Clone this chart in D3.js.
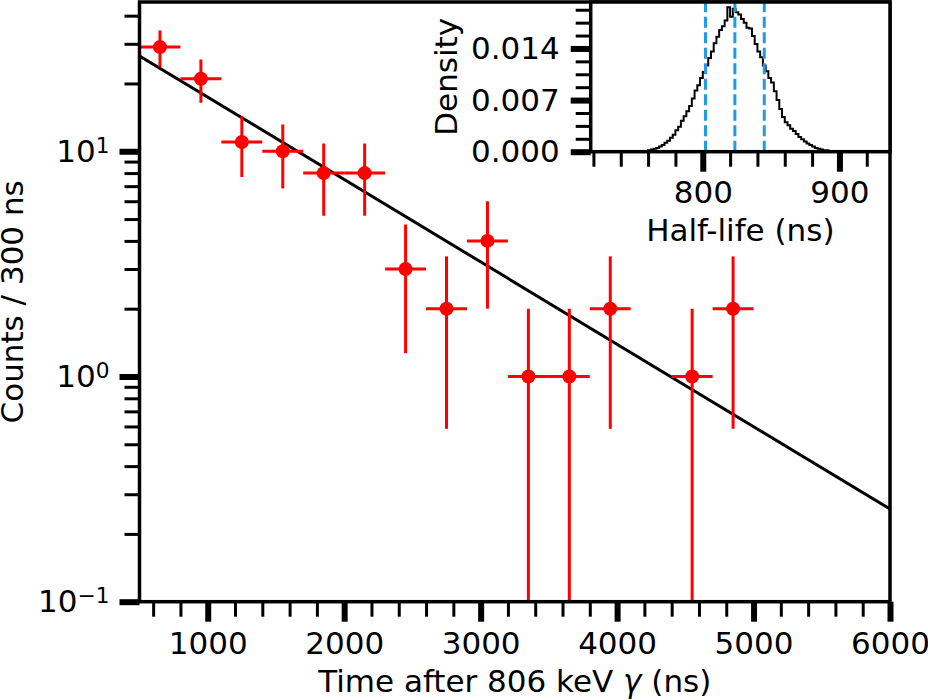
<!DOCTYPE html>
<html>
<head>
<meta charset="utf-8">
<script src="https://cdn.jsdelivr.net/npm/d3@7"></script>
<style>
  body { margin: 0; background: #fff; }
  text { font-family: "DejaVu Sans", sans-serif; fill: #000; }
</style>
</head>
<body>
<script>
// Decay curve: counts per 300 ns bin (bin at 4250 ns is empty)
const timeNs = [650, 950, 1250, 1550, 1850, 2150, 2450, 2750, 3050, 3350, 3650, 3950, 4550, 4850];
const counts = [29, 21, 11, 10, 8, 8, 3, 2, 4, 1, 1, 2, 1, 2];
const binHalfWidth = 150;

// fitted exponential, end points
const fitTime = [500, 6000];
const fitCounts = [26.5, 0.258];

const xTicks = [1000, 2000, 3000, 4000, 5000, 6000];
const xMinorTicks = [600, 800, 1200, 1400, 1600, 1800, 2200, 2400, 2600, 2800, 3200, 3400, 3600, 3800,
  4200, 4400, 4600, 4800, 5200, 5400, 5600, 5800];
const yTicks = [0.1, 1, 10];
const yTickExp = ['\u22121', '0', '1'];
const yMinorTicks = [0.2, 0.3, 0.4, 0.5, 0.6, 0.7, 0.8, 0.9, 2, 3, 4, 5, 6, 7, 8, 9, 20, 30, 40];

// Inset: half-life posterior histogram, 2 ns bins starting at 756 ns
const histStart = 756;
const histBin = 2;
const histDensity = [
  0.0001, 0.0001, 0.0002, 0.0003, 0.0004, 0.0005, 0.0007, 0.0009, 0.0012, 0.0015,
  0.0019, 0.0023, 0.0029, 0.0034, 0.0042, 0.0048, 0.0055, 0.0062, 0.0072, 0.0083,
  0.0090, 0.0100, 0.0108, 0.0117, 0.0127, 0.0136, 0.0147, 0.0156, 0.0165, 0.0170,
  0.0178, 0.0196, 0.0183, 0.0194, 0.0189, 0.0186, 0.0180, 0.0175, 0.0168, 0.0167,
  0.0157, 0.0146, 0.0136, 0.0128, 0.0117, 0.0109, 0.0100, 0.0094, 0.0082, 0.0070,
  0.0058, 0.0047, 0.0040, 0.0036, 0.0031, 0.0028, 0.0024, 0.0020, 0.0017, 0.0014,
  0.0011, 0.0009, 0.0007, 0.0005, 0.0004, 0.0003, 0.0002, 0.0002, 0.0001, 0.0001, 0.0000
];
const halfLifeQuantiles = [802, 823.5, 845];
const insetXTicks = [800, 900];
const insetXMinorTicks = [720, 740, 760, 780, 820, 840, 860, 880, 920];
const insetYTicks = [0, 0.007, 0.014];
const insetYMinorTicks = [0.00175, 0.0035, 0.00525, 0.00875, 0.0105, 0.01225, 0.01575, 0.0175, 0.01925];

const W = 928, H = 700;
const fontSize = 31;
const main = {left: 139.5, right: 890, top: 2, bottom: 601.7};
const inset = {left: 590.7, right: 890, top: 2, bottom: 151.7};

const svg = d3.select('body').append('svg')
    .attr('width', W)
    .attr('height', H);

const x = d3.scaleLinear().domain([500, 6000]).range([main.left, main.right]);
const y = d3.scaleLog().domain([0.1, 46]).range([main.bottom, main.top]);

svg.append('defs').append('clipPath').attr('id', 'main-clip')
  .append('rect')
    .attr('x', main.left).attr('y', main.top)
    .attr('width', main.right - main.left).attr('height', main.bottom - main.top);

// styles every tick group the same way
function styleAxis(g, width) {
  g.select('.domain').remove();
  g.selectAll('.tick line').attr('stroke', '#000').attr('stroke-width', width);
  g.selectAll('.tick text').attr('font-size', fontSize).attr('fill', '#000');
}

// --- main axes ticks
svg.append('g')
    .attr('transform', `translate(0,${main.bottom})`)
    .call(d3.axisBottom(x).tickValues(xMinorTicks).tickSize(15).tickFormat(''))
    .call(g => styleAxis(g, 3));
svg.append('g')
    .attr('transform', `translate(0,${main.bottom})`)
    .call(d3.axisBottom(x).tickValues(xTicks).tickSize(20).tickPadding(10).tickFormat(d3.format('d')))
    .call(g => styleAxis(g, 6));

svg.append('g')
    .attr('transform', `translate(${main.left},0)`)
    .call(d3.axisLeft(y).tickValues(yMinorTicks).tickSize(15).tickFormat(''))
    .call(g => styleAxis(g, 3));
const yAxis = svg.append('g')
    .attr('transform', `translate(${main.left},0)`)
    .call(d3.axisLeft(y).tickValues(yTicks).tickSize(20).tickPadding(10).tickFormat(''))
    .call(g => styleAxis(g, 6));

yAxis.selectAll('.tick text').each(function(d, i) {
  const t = d3.select(this);
  t.append('tspan').text('10');
  t.append('tspan').attr('dy', '-0.42em').attr('font-size', fontSize * 0.7).text(yTickExp[i]);
});

// --- data
const plot = svg.append('g').attr('clip-path', 'url(#main-clip)');

plot.append('path')
    .datum(fitTime.map((t, i) => [t, fitCounts[i]]))
    .attr('fill', 'none')
    .attr('stroke', '#000')
    .attr('stroke-width', 3)
    .attr('d', d3.line().x(d => x(d[0])).y(d => y(d[1])));

const pts = timeNs.map((t, i) => ({t: t, n: counts[i], err: Math.sqrt(counts[i])}));

plot.selectAll('.xerr')
    .data(pts)
  .join('line')
    .attr('class', 'xerr')
    .attr('x1', d => x(d.t - binHalfWidth))
    .attr('x2', d => x(d.t + binHalfWidth))
    .attr('y1', d => y(d.n))
    .attr('y2', d => y(d.n))
    .attr('stroke', '#ff0000')
    .attr('stroke-width', 3);

plot.selectAll('.yerr')
    .data(pts)
  .join('line')
    .attr('class', 'yerr')
    .attr('x1', d => x(d.t))
    .attr('x2', d => x(d.t))
    .attr('y1', d => y(d.n + d.err))
    .attr('y2', d => d.n - d.err > 0.01 ? y(d.n - d.err) : main.bottom + 5)
    .attr('stroke', '#ff0000')
    .attr('stroke-width', 3);

plot.selectAll('.pt')
    .data(pts)
  .join('circle')
    .attr('class', 'pt')
    .attr('cx', d => x(d.t))
    .attr('cy', d => y(d.n))
    .attr('r', 7)
    .attr('fill', '#ff0000');

svg.append('rect')
    .attr('x', main.left).attr('y', main.top)
    .attr('width', main.right - main.left).attr('height', main.bottom - main.top)
    .attr('fill', 'none').attr('stroke', '#000').attr('stroke-width', 3.5);

svg.append('text')
    .attr('x', (main.left + main.right) / 2)
    .attr('y', 691.5)
    .attr('text-anchor', 'middle')
    .attr('font-size', fontSize)
    .call(t => {
      t.append('tspan').text('Time after 806 keV ');
      t.append('tspan').attr('font-style', 'italic').text('\u03b3');
      t.append('tspan').text(' (ns)');
    });

svg.append('text')
    .attr('transform', `translate(23,${(main.top + main.bottom) / 2}) rotate(-90)`)
    .attr('text-anchor', 'middle')
    .attr('font-size', fontSize)
    .text('Counts / 300 ns');

// --- inset
const xi = d3.scaleLinear().domain([718, 937]).range([inset.left, inset.right]);
const yi = d3.scaleLinear().domain([0, 0.0203]).range([inset.bottom, inset.top]);

svg.append('rect')
    .attr('x', inset.left).attr('y', inset.top)
    .attr('width', inset.right - inset.left).attr('height', inset.bottom - inset.top)
    .attr('fill', '#fff');

svg.append('defs').append('clipPath').attr('id', 'inset-clip')
  .append('rect')
    .attr('x', inset.left).attr('y', inset.top)
    .attr('width', inset.right - inset.left).attr('height', inset.bottom - inset.top);

const histPts = [[histStart, 0]]
  .concat(histDensity.map((d, i) => [histStart + i * histBin, d]))
  .concat([[histStart + histDensity.length * histBin, 0]]);

svg.append('path')
    .datum(histPts)
    .attr('clip-path', 'url(#inset-clip)')
    .attr('fill', 'none')
    .attr('stroke', '#000')
    .attr('stroke-width', 2)
    .attr('d', d3.line().curve(d3.curveStepAfter).x(d => xi(d[0])).y(d => yi(d[1])));

svg.selectAll('.quantile')
    .data(halfLifeQuantiles)
  .join('line')
    .attr('class', 'quantile')
    .attr('x1', d => xi(d)).attr('x2', d => xi(d))
    .attr('y1', inset.bottom).attr('y2', inset.top)
    .attr('stroke', '#1f9ce6')
    .attr('stroke-width', 3)
    .attr('stroke-dasharray', '11,4.5');

svg.append('g')
    .attr('transform', `translate(0,${inset.bottom})`)
    .call(d3.axisBottom(xi).tickValues(insetXMinorTicks).tickSize(15).tickFormat(''))
    .call(g => styleAxis(g, 3));
svg.append('g')
    .attr('transform', `translate(0,${inset.bottom})`)
    .call(d3.axisBottom(xi).tickValues(insetXTicks).tickSize(20).tickPadding(9).tickFormat(d3.format('d')))
    .call(g => styleAxis(g, 6));
svg.append('g')
    .attr('transform', `translate(${inset.left},0)`)
    .call(d3.axisLeft(yi).tickValues(insetYMinorTicks).tickSize(15).tickFormat(''))
    .call(g => styleAxis(g, 3));
svg.append('g')
    .attr('transform', `translate(${inset.left},0)`)
    .call(d3.axisLeft(yi).tickValues(insetYTicks).tickSize(20).tickPadding(11).tickFormat(d3.format('.3f')))
    .call(g => styleAxis(g, 6));

svg.append('rect')
    .attr('x', inset.left).attr('y', inset.top)
    .attr('width', inset.right - inset.left).attr('height', inset.bottom - inset.top)
    .attr('fill', 'none').attr('stroke', '#000').attr('stroke-width', 3.5);

svg.append('text')
    .attr('x', (inset.left + inset.right) / 2)
    .attr('y', 241)
    .attr('text-anchor', 'middle')
    .attr('font-size', fontSize)
    .text('Half-life (ns)');

svg.append('text')
    .attr('transform', `translate(457,${(inset.top + inset.bottom) / 2}) rotate(-90)`)
    .attr('text-anchor', 'middle')
    .attr('font-size', fontSize)
    .text('Density');
</script>
</body>
</html>
